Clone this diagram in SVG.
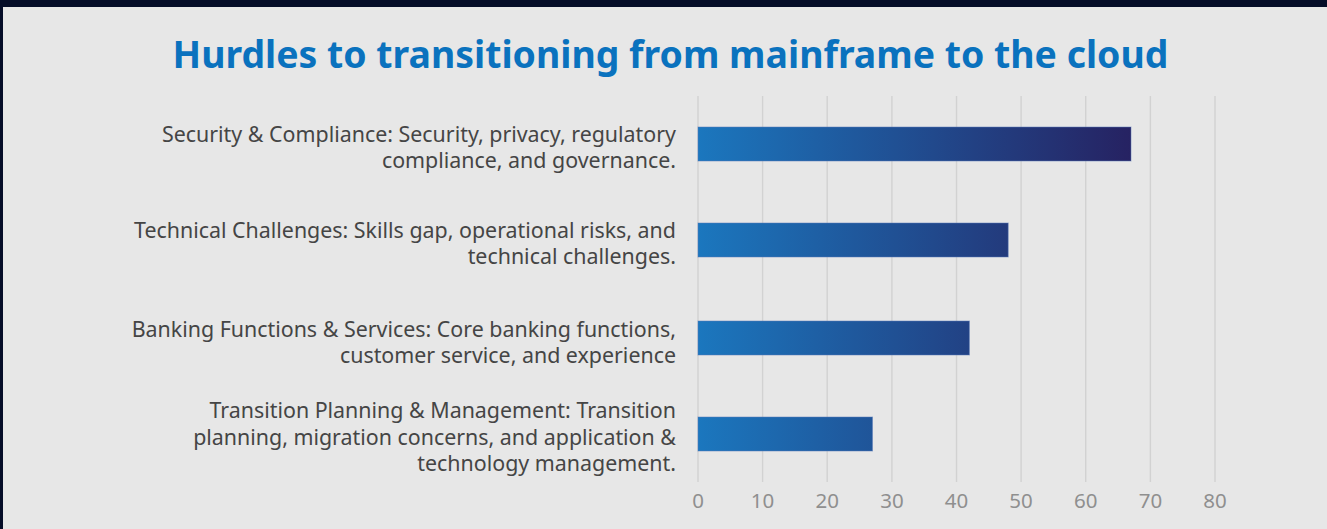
<svg xmlns="http://www.w3.org/2000/svg" width="1327" height="529" viewBox="0 0 1327 529">
<defs>
<style>
.title{font-family:"Noto Sans","Open Sans",sans-serif;font-weight:700;font-size:37.4px;fill:#0a72be;}
.lbl{font-family:"Noto Sans","Open Sans",sans-serif;font-size:21.4px;fill:#454545;text-anchor:end;}
.tick{font-family:"Noto Sans","Open Sans",sans-serif;font-size:20.5px;fill:#8f8f8f;text-anchor:middle;}
.grid{stroke:#d2d2d2;stroke-width:1.4;}
.bar{fill:url(#barGrad);stroke:#5a7ab8;stroke-opacity:0.5;stroke-width:1;}
</style>
<linearGradient id="barGrad" gradientUnits="userSpaceOnUse" x1="698" y1="0" x2="1131" y2="0">
<stop offset="0" stop-color="#1b77be"/>
<stop offset="1" stop-color="#262262"/>
</linearGradient>
</defs>
<rect x="0" y="0" width="1327" height="529" fill="#e7e7e7"/>
<rect x="0" y="0" width="1327" height="7" fill="#050d28"/>
<rect x="0" y="0" width="3" height="529" fill="#050d28"/>
<text id="title" class="title" x="670.5" y="68" text-anchor="middle">Hurdles to transitioning from mainframe to the cloud</text>
<g id="gridlines">
<line class="grid" x1="698" y1="96" x2="698" y2="482"/>
<line class="grid" x1="762.6" y1="96" x2="762.6" y2="482"/>
<line class="grid" x1="827.2" y1="96" x2="827.2" y2="482"/>
<line class="grid" x1="891.9" y1="96" x2="891.9" y2="482"/>
<line class="grid" x1="956.5" y1="96" x2="956.5" y2="482"/>
<line class="grid" x1="1021.1" y1="96" x2="1021.1" y2="482"/>
<line class="grid" x1="1085.7" y1="96" x2="1085.7" y2="482"/>
<line class="grid" x1="1150.4" y1="96" x2="1150.4" y2="482"/>
<line class="grid" x1="1215" y1="96" x2="1215" y2="482"/>
</g>
<g id="axis-labels">
<text class="tick" x="698" y="508">0</text>
<text class="tick" x="762.6" y="508">10</text>
<text class="tick" x="827.2" y="508">20</text>
<text class="tick" x="891.9" y="508">30</text>
<text class="tick" x="956.5" y="508">40</text>
<text class="tick" x="1021.1" y="508">50</text>
<text class="tick" x="1085.7" y="508">60</text>
<text class="tick" x="1150.4" y="508">70</text>
<text class="tick" x="1215" y="508">80</text>
</g>
<g id="bar-security">
<rect class="bar" x="698" y="127" width="433" height="34"/>
<text class="lbl" x="676" y="142">Security &amp; Compliance: Security, privacy, regulatory<tspan x="676" dy="26">compliance, and governance.</tspan></text>
</g>
<g id="bar-technical">
<rect class="bar" x="698" y="223" width="310.2" height="34"/>
<text class="lbl" x="676" y="238">Technical Challenges: Skills gap, operational risks, and<tspan x="676" dy="26">technical challenges.</tspan></text>
</g>
<g id="bar-banking">
<rect class="bar" x="698" y="321" width="271.4" height="34"/>
<text class="lbl" x="676" y="337">Banking Functions &amp; Services: Core banking functions,<tspan x="676" dy="26">customer service, and experience</tspan></text>
</g>
<g id="bar-transition">
<rect class="bar" x="698" y="417" width="174.5" height="34"/>
<text class="lbl" x="676" y="418">Transition Planning &amp; Management: Transition<tspan x="676" dy="26.5">planning, migration concerns, and application &amp;</tspan><tspan x="676" dy="26.5">technology management.</tspan></text>
</g>
</svg>
